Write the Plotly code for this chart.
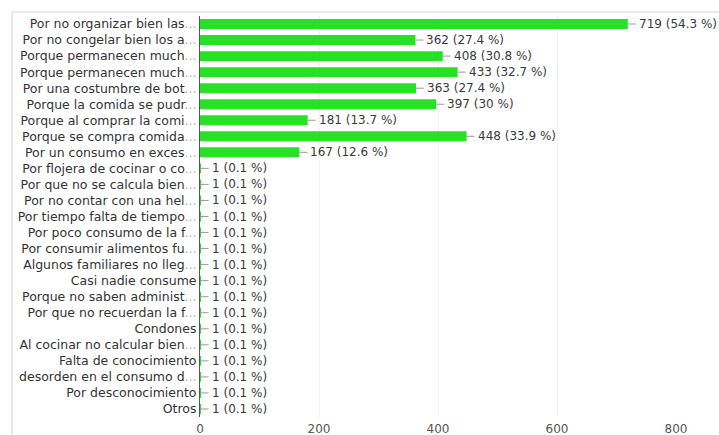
import plotly.graph_objects as go

# Response categories (top to bottom) and their counts / percentages
categories = [
    "Por no organizar bien las...",
    "Por no congelar bien los a...",
    "Porque permanecen much...",
    "Porque permanecen much...",
    "Por una costumbre de bot...",
    "Porque la comida se pudr...",
    "Porque al comprar la comi...",
    "Porque se compra comida...",
    "Por un consumo en exces...",
    "Por flojera de cocinar o co...",
    "Por que no se calcula bien...",
    "Por no contar con una hel...",
    "Por tiempo falta de tiempo...",
    "Por poco consumo de la f...",
    "Por consumir alimentos fu...",
    "Algunos familiares no lleg...",
    "Casi nadie consume",
    "Porque no saben administ...",
    "Por que no recuerdan la f...",
    "Condones",
    "Al cocinar no calcular bien...",
    "Falta de conocimiento",
    "desorden en el consumo d...",
    "Por desconocimiento",
    "Otros",
]
counts = [719, 362, 408, 433, 363, 397, 181, 448, 167,
          1, 1, 1, 1, 1, 1, 1, 1, 1, 1, 1, 1, 1, 1, 1, 1]
percents = ["54.3", "27.4", "30.8", "32.7", "27.4", "30", "13.7", "33.9", "12.6",
            "0.1", "0.1", "0.1", "0.1", "0.1", "0.1", "0.1", "0.1", "0.1", "0.1",
            "0.1", "0.1", "0.1", "0.1", "0.1", "0.1"]
x_ticks = [0, 200, 400, 600, 800]

FONT = "DejaVu Sans, Arial, sans-serif"
positions = list(range(len(categories)))

W, H = 719, 435
ML, MR, MT, MB = 200, 43, 16, 18
PW, PH = W - ML - MR, H - MT - MB


def tick_label(text):
    # grey out the trailing ellipsis of truncated labels
    if text.endswith("..."):
        return text[:-3] + "<span style='color:#b0b0b0'>...</span>"
    return text


fig = go.Figure(
    go.Bar(
        x=counts,
        y=positions,
        orientation="h",
        marker=dict(color="#27e027", line=dict(width=0)),
        width=0.62,
        hoverinfo="skip",
    )
)

# value labels with a short grey leader line
for pos, c, p in zip(positions, counts, percents):
    fig.add_annotation(
        x=c, y=pos, xref="x", yref="y",
        text=f"{c} ({p} %)",
        showarrow=True, arrowhead=0, arrowwidth=1, arrowcolor="#9a9a9a",
        ax=9, ay=0, xanchor="left", standoff=0, startstandoff=1,
        font=dict(family=FONT, size=12, color="#3a3a3a"),
    )

# light frame around the chart panel
fig.add_shape(
    type="rect", xref="paper", yref="paper",
    x0=(12 - ML) / PW, x1=(W + 20 - ML) / PW,
    y0=-(MB + 20) / PH, y1=1 + (MT - 12) / PH,
    line=dict(color="#d2d2d2", width=1), fillcolor="rgba(0,0,0,0)", layer="below",
)

fig.update_layout(
    width=W, height=H,
    margin=dict(l=ML, r=MR, t=MT, b=MB),
    paper_bgcolor="white", plot_bgcolor="white",
    showlegend=False,
    font=dict(family=FONT, size=12, color="#333333"),
    xaxis=dict(
        range=[0, 800], tickvals=x_ticks, ticktext=[str(v) for v in x_ticks],
        showgrid=True, gridcolor="#f1f1f1", gridwidth=1,
        zeroline=False, showline=False, ticks="", ticklabelstandoff=3,
        tickfont=dict(family=FONT, size=12, color="#555555"),
        automargin=False, fixedrange=True,
    ),
    yaxis=dict(
        range=[len(categories) - 0.5, -0.5],
        tickvals=positions, ticktext=[tick_label(t) for t in categories],
        showgrid=False, zeroline=False,
        showline=True, linecolor="#555555", linewidth=1,
        ticks="", ticklen=0,
        tickfont=dict(family=FONT, size=12.5, color="#333333"),
        automargin=False, fixedrange=True,
    ),
)

fig.write_html("out.html")
